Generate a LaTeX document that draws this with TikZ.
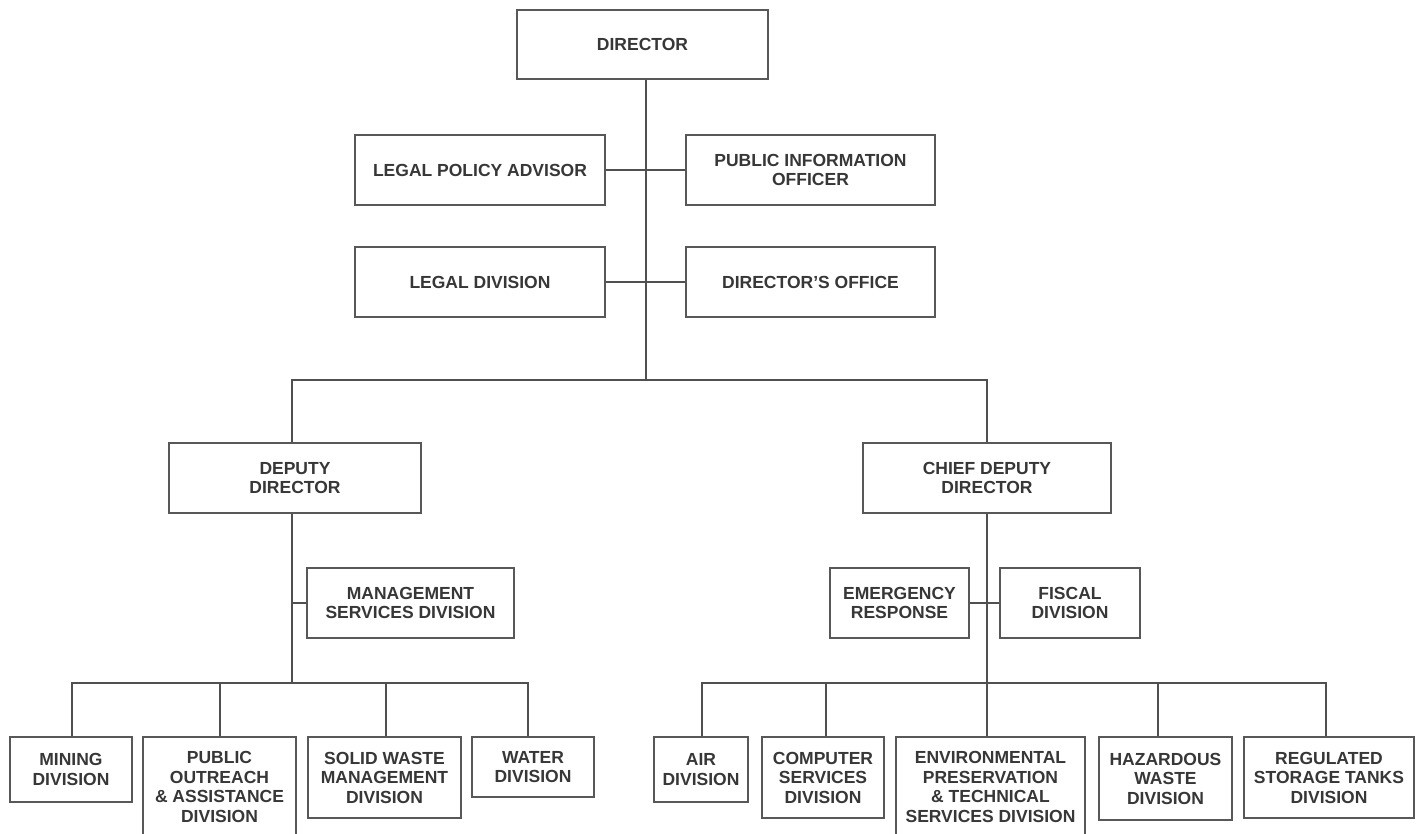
\documentclass[tikz,border=0pt]{standalone}
\usepackage{fontspec}
\setmainfont{Liberation Sans}
\usetikzlibrary{calc}
\definecolor{boxc}{RGB}{88,88,88}
\definecolor{linec}{RGB}{80,80,80}
\definecolor{txt}{RGB}{55,55,55}
\begin{document}
\begin{tikzpicture}[x=1pt,y=-1pt,
  box/.style={draw=boxc, line width=2pt, fill=white, align=center, text=txt,
    inner sep=0pt, font={\fontsize{17.5}{19.5}\selectfont\bfseries}},
  link/.style={draw=linec, line width=2pt}]
\useasboundingbox (0,0) rectangle (1419,833);
\fill[white] (0,0) rectangle (1419,833);
\clip (0,0) rectangle (1419,833);

% top of the chart
\node[box, minimum width=251, minimum height=69] (director) at (642.5,44.5) {DIRECTOR};
\node[box, minimum width=250, minimum height=70] (lpa) at (480,170) {LEGAL POLICY ADVISOR};
\node[box, minimum width=249, minimum height=70] (pio) at (810.5,170) {PUBLIC INFORMATION\\OFFICER};
\node[box, minimum width=250, minimum height=70] (legal) at (480,282) {LEGAL DIVISION};
\node[box, minimum width=249, minimum height=70] (office) at (810.5,282) {DIRECTOR'S OFFICE};

% deputies
\node[box, minimum width=252, minimum height=70] (deputy) at (295,478) {DEPUTY\\DIRECTOR};
\node[box, minimum width=248, minimum height=70] (chief) at (987,478) {CHIEF DEPUTY\\DIRECTOR};
\node[box, minimum width=207, minimum height=70] (msd) at (410.5,603) {MANAGEMENT\\SERVICES DIVISION};
\node[box, minimum width=139, minimum height=70] (er) at (899.5,603) {EMERGENCY\\RESPONSE};
\node[box, minimum width=140, minimum height=70] (fiscal) at (1070,603) {FISCAL\\DIVISION};

% divisions under the deputy director
\node[box, minimum width=122, minimum height=65] (mining) at (71,769.5) {MINING\\DIVISION};
\node[box, minimum width=153, minimum height=100] (outreach) at (219.5,787) {PUBLIC\\OUTREACH\\\& ASSISTANCE\\DIVISION};
\node[box, minimum width=153, minimum height=81] (solid) at (384.5,777.5) {SOLID WASTE\\MANAGEMENT\\DIVISION};
\node[box, minimum width=122, minimum height=60] (water) at (533,767) {WATER\\DIVISION};

% divisions under the chief deputy director
\node[box, minimum width=94, minimum height=65] (air) at (701,769.5) {AIR\\DIVISION};
\node[box, minimum width=122, minimum height=81] (computer) at (823,777.5) {COMPUTER\\SERVICES\\DIVISION};
\node[box, minimum width=189, minimum height=100] (env) at (990.5,787) {ENVIRONMENTAL\\PRESERVATION\\\& TECHNICAL\\SERVICES DIVISION};
\node[box, minimum width=133, minimum height=83] (hazard) at (1165.5,778.5) {HAZARDOUS\\WASTE\\DIVISION};
\node[box, minimum width=170, minimum height=81] (tanks) at (1329,777.5) {REGULATED\\STORAGE TANKS\\DIVISION};

% junction points of the connector trunks
\coordinate (top) at (646,380);
\coordinate (dtrunk) at (292,380);
\coordinate (ctrunk) at (987,380);
\coordinate (dbus) at (292,683);
\coordinate (cbus) at (987,683);

% director trunk and staff offices
\draw[link] (director.south -| top) -- (top);
\draw[link] (lpa) -- (pio);
\draw[link] (legal) -- (office);
\draw[link] (deputy.north -| dtrunk) |- (top) -| (chief.north -| ctrunk);

% deputy director branch
\draw[link] (deputy.south -| dtrunk) -- (dbus);
\draw[link] (msd.west) -- (msd.west -| dtrunk);
\draw[link] ([xshift=1]mining.north) |- (dbus);
\draw[link] ([xshift=0.5]outreach.north) |- (dbus);
\draw[link] ([xshift=1.5]solid.north) |- (dbus);
\draw[link] ([xshift=-5]water.north) |- (dbus);

% chief deputy director branch
\draw[link] (chief.south) -- (chief.south |- env.north);
\draw[link] (er) -- (fiscal);
\draw[link] ([xshift=1]air.north) |- (cbus);
\draw[link] ([xshift=3]computer.north) |- (cbus);
\draw[link] ([xshift=-7.5]hazard.north) |- (cbus);
\draw[link] ([xshift=-3]tanks.north) |- (cbus);
\end{tikzpicture}
\end{document}
